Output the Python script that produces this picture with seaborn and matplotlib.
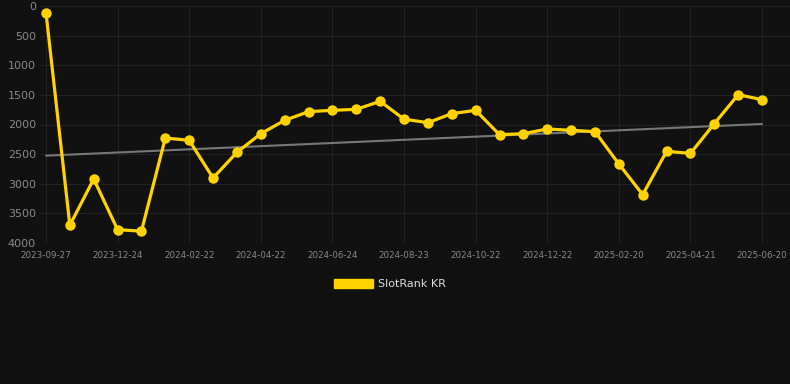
import numpy as np
import pandas as pd
import matplotlib
matplotlib.use("Agg")
import matplotlib.pyplot as plt
import matplotlib.patches as mpatches
import seaborn as sns

# ---- data ----
ranks = [110, 3700, 2920, 3775, 3800, 2228, 2267, 2903, 2470, 2155,
         1930, 1783, 1761, 1744, 1609, 1910, 1969, 1817, 1761, 2172,
         2155, 2076, 2098, 2121, 2667, 3184, 2453, 2487, 1986, 1496, 1581]
tick_labels = ["2023-09-27", "2023-12-24", "2024-02-22", "2024-04-22",
               "2024-06-24", "2024-08-23", "2024-10-22", "2024-12-22",
               "2025-02-20", "2025-04-21", "2025-06-20"]
trend_ends = [2526, 1991]
series_name = "SlotRank KR"

idx = np.arange(len(ranks))
df = pd.DataFrame({"i": idx, "rank": ranks})
trend_df = pd.DataFrame({"i": [idx[0], idx[-1]], "trend": trend_ends})

BG = "#111111"
GOLD = "#FFD200"

sns.set_theme(style="dark")
fig = plt.figure(figsize=(7.9, 3.84), dpi=100, facecolor=BG)
ax = fig.add_axes([40 / 790, (384 - 243) / 384, 750 / 790, 237 / 384])
ax.set_facecolor(BG)

sns.lineplot(data=trend_df, x="i", y="trend", ax=ax, color="#777777", linewidth=1.5, zorder=2)
sns.lineplot(data=df, x="i", y="rank", ax=ax, color=GOLD, linewidth=2.3,
             marker="o", markersize=7.5, markeredgewidth=0, zorder=3)

ax.set_ylim(4000, 0)
ax.set_xlim(-0.25, 31.17)
ax.set_yticks(np.arange(0, 4001, 500))
ax.set_yticklabels([str(v) for v in range(0, 4001, 500)])
ax.set_xticks(idx[::3])
ax.set_xticklabels(tick_labels)
ax.tick_params(axis="y", colors="#888888", labelsize=8, length=0, pad=3)
ax.tick_params(axis="x", colors="#888888", labelsize=6.3, length=0, pad=6)
ax.grid(True, color="#232323", linewidth=0.7)
for s in ax.spines.values():
    s.set_visible(False)
ax.set_xlabel("")
ax.set_ylabel("")

handle = mpatches.Patch(color=GOLD, label=series_name)
leg = fig.legend(handles=[handle], loc="center", bbox_to_anchor=((390) / 790, 1 - 284 / 384),
                 frameon=False, fontsize=8, handlelength=3.5, handleheight=0.9,
                 handletextpad=0.5)
for t in leg.get_texts():
    t.set_color("#dddddd")

fig.savefig("out.png", dpi=100, facecolor=BG)
